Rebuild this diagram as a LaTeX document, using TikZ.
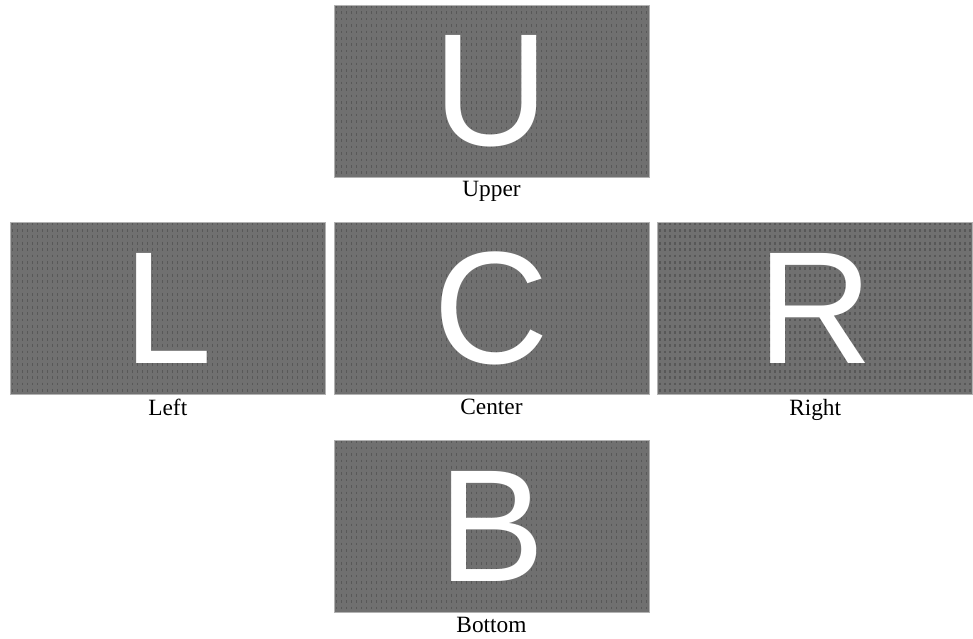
\documentclass[tikz,border=0pt]{standalone}
\usepackage{fontspec}
\setmainfont{Liberation Serif}
\newfontfamily\lettersf{Liberation Sans}
\usepackage{xcolor}
\usepackage{tikz}
\usetikzlibrary{positioning}

\definecolor{panelgray}{RGB}{112,112,112}
\definecolor{markgray}{RGB}{88,88,88}

\begin{document}
\begin{tikzpicture}[
			panel/.style={
				draw=black!30,
				line width=0.5pt,
				fill=panelgray,
				minimum width=236.25pt,
				minimum height=129pt,
				inner sep=0pt,
				text=white,
				font=\lettersf\fontsize{120}{120}\selectfont,
				path picture={
					\foreach \i in {0,...,62}
						\draw[markgray, line width=1.1pt, dash pattern=on 2pt off 2.8pt]
							([xshift=\i*3.75pt+1.8pt]path picture bounding box.north west) --
							([xshift=\i*3.75pt+1.8pt]path picture bounding box.south west);
				}
			},
			caption/.style={
				font=\fontsize{17.5}{20}\selectfont,
				inner sep=1pt
			},
			node distance=33.75pt
			]
			
			\useasboundingbox (-368.6pt,-247pt) rectangle (361.1pt,231.5pt);
			
			\node[panel] (center) at (0,0) {C};
			\node[panel, above=of center] (upper) {U};
			\node[panel, left=6pt of center] (left) {L};
			\node[panel, right=6pt of center] (right) {R};
			\node[panel, below=of center] (bottom) {B};
			
			\node[caption, below=2pt of upper] (upperlbl) {Upper};
			\node[caption, below=2pt of left] (leftlbl) {Left};
			\node[caption, below=2pt of center] (centerlbl) {Center};
			\node[caption, below=2pt of right] (rightlbl) {Right};
			\node[caption, below=2pt of bottom] (bottomlbl) {Bottom};
			
		\end{tikzpicture}
\end{document}
